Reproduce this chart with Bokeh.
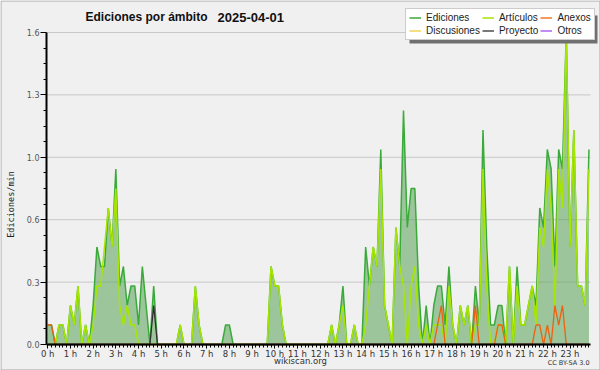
import math
from bokeh.plotting import figure
from bokeh.models import Range1d, FixedTicker, Legend, LegendItem, Label, BoxAnnotation
from bokeh.embed import file_html
from bokeh.resources import INLINE

# ---- data: edits per minute, 10-minute slots, 2025-04-01 ----
slot_minutes = 10
ediciones = [
    0.1, 0.1, 0.0, 0.1, 0.1, 0.0,   # 0 h
    0.2, 0.1, 0.3, 0.0, 0.1, 0.0,   # 1 h
    0.2, 0.5, 0.4, 0.4, 0.7, 0.5,   # 2 h
    0.9, 0.3, 0.4, 0.2, 0.3, 0.3,   # 3 h
    0.1, 0.4, 0.2, 0.0, 0.3, 0.0,   # 4 h
    0.0, 0.0, 0.0, 0.0, 0.0, 0.1,   # 5 h
    0.0, 0.0, 0.0, 0.3, 0.1, 0.0,   # 6 h
    0.0, 0.0, 0.0, 0.0, 0.0, 0.1,   # 7 h
    0.1, 0.0, 0.0, 0.0, 0.0, 0.0,   # 8 h
    0.0, 0.0, 0.0, 0.0, 0.0, 0.4,   # 9 h
    0.3, 0.3, 0.1, 0.0, 0.0, 0.0,   # 10 h
    0.0, 0.0, 0.0, 0.0, 0.0, 0.0,   # 11 h
    0.0, 0.0, 0.0, 0.1, 0.0, 0.1,   # 12 h
    0.3, 0.0, 0.0, 0.1, 0.0, 0.0,   # 13 h
    0.5, 0.3, 0.5, 0.4, 1.0, 0.2,   # 14 h
    0.1, 0.0, 0.6, 0.4, 1.2, 0.6,   # 15 h
    0.8, 0.8, 0.3, 0.0, 0.2, 0.0,   # 16 h
    0.2, 0.3, 0.3, 0.1, 0.4, 0.1,   # 17 h
    0.0, 0.2, 0.1, 0.2, 0.0, 0.3,   # 18 h
    0.1, 1.1, 0.5, 0.1, 0.1, 0.2,   # 19 h
    0.2, 0.0, 0.4, 0.0, 0.4, 0.1,   # 20 h
    0.1, 0.2, 0.3, 0.2, 0.7, 0.6,   # 21 h
    1.0, 0.9, 0.4, 1.0, 0.9, 1.6,   # 22 h
    0.5, 1.1, 0.3, 0.3, 0.2, 1.0,   # 23 h
]
articulos = [
    0.0, 0.0, 0.0, 0.1, 0.1, 0.0,
    0.2, 0.1, 0.3, 0.0, 0.1, 0.0,
    0.1, 0.3, 0.3, 0.5, 0.7, 0.5,
    0.8, 0.2, 0.1, 0.2, 0.1, 0.1,
    0.0, 0.0, 0.0, 0.0, 0.0, 0.0,
    0.0, 0.0, 0.0, 0.0, 0.0, 0.1,
    0.0, 0.0, 0.0, 0.3, 0.1, 0.0,
    0.0, 0.0, 0.0, 0.0, 0.0, 0.0,
    0.0, 0.0, 0.0, 0.0, 0.0, 0.0,
    0.0, 0.0, 0.0, 0.0, 0.0, 0.4,
    0.3, 0.3, 0.1, 0.0, 0.0, 0.0,
    0.0, 0.0, 0.0, 0.0, 0.0, 0.0,
    0.0, 0.0, 0.0, 0.1, 0.0, 0.1,
    0.2, 0.0, 0.0, 0.1, 0.0, 0.0,
    0.1, 0.3, 0.5, 0.4, 0.9, 0.2,
    0.1, 0.0, 0.6, 0.4, 0.3, 0.0,
    0.3, 0.4, 0.1, 0.0, 0.1, 0.0,
    0.1, 0.1, 0.1, 0.0, 0.3, 0.1,
    0.0, 0.2, 0.1, 0.2, 0.0, 0.1,
    0.1, 0.9, 0.3, 0.0, 0.0, 0.1,
    0.1, 0.0, 0.4, 0.0, 0.3, 0.1,
    0.1, 0.2, 0.3, 0.1, 0.6, 0.5,
    0.9, 0.7, 0.2, 0.9, 0.7, 1.6,
    0.5, 1.1, 0.3, 0.3, 0.2, 0.9,
]
anexos = [
    0.1, 0.1, 0.0, 0.0, 0.0, 0.0,
    0.0, 0.0, 0.0, 0.0, 0.0, 0.0,
    0.0, 0.0, 0.0, 0.0, 0.0, 0.0,
    0.0, 0.0, 0.0, 0.0, 0.0, 0.0,
    0.0, 0.0, 0.0, 0.0, 0.0, 0.0,
    0.0, 0.0, 0.0, 0.0, 0.0, 0.0,
    0.0, 0.0, 0.0, 0.0, 0.0, 0.0,
    0.0, 0.0, 0.0, 0.0, 0.0, 0.0,
    0.0, 0.0, 0.0, 0.0, 0.0, 0.0,
    0.0, 0.0, 0.0, 0.0, 0.0, 0.0,
    0.0, 0.0, 0.0, 0.0, 0.0, 0.0,
    0.0, 0.0, 0.0, 0.0, 0.0, 0.0,
    0.0, 0.0, 0.0, 0.0, 0.0, 0.0,
    0.0, 0.0, 0.0, 0.0, 0.0, 0.0,
    0.0, 0.0, 0.0, 0.0, 0.0, 0.0,
    0.0, 0.0, 0.0, 0.0, 0.0, 0.0,
    0.0, 0.0, 0.0, 0.0, 0.0, 0.0,
    0.0, 0.1, 0.2, 0.0, 0.0, 0.0,
    0.0, 0.0, 0.0, 0.0, 0.0, 0.2,
    0.0, 0.0, 0.0, 0.0, 0.0, 0.1,
    0.1, 0.0, 0.0, 0.0, 0.0, 0.0,
    0.0, 0.0, 0.0, 0.1, 0.1, 0.0,
    0.1, 0.0, 0.2, 0.1, 0.2, 0.0,
    0.0, 0.0, 0.0, 0.0, 0.0, 0.0,
]
proyecto = [
    0.0, 0.0, 0.0, 0.0, 0.0, 0.0,
    0.0, 0.0, 0.0, 0.0, 0.0, 0.0,
    0.0, 0.0, 0.0, 0.0, 0.0, 0.0,
    0.0, 0.0, 0.0, 0.0, 0.0, 0.0,
    0.0, 0.0, 0.0, 0.0, 0.2, 0.0,
    0.0, 0.0, 0.0, 0.0, 0.0, 0.0,
    0.0, 0.0, 0.0, 0.0, 0.0, 0.0,
    0.0, 0.0, 0.0, 0.0, 0.0, 0.0,
    0.0, 0.0, 0.0, 0.0, 0.0, 0.0,
    0.0, 0.0, 0.0, 0.0, 0.0, 0.0,
    0.0, 0.0, 0.0, 0.0, 0.0, 0.0,
    0.0, 0.0, 0.0, 0.0, 0.0, 0.0,
    0.0, 0.0, 0.0, 0.0, 0.0, 0.0,
    0.0, 0.0, 0.0, 0.0, 0.0, 0.0,
    0.0, 0.0, 0.0, 0.0, 0.0, 0.0,
    0.0, 0.0, 0.0, 0.0, 0.0, 0.0,
    0.0, 0.0, 0.0, 0.0, 0.0, 0.0,
    0.0, 0.0, 0.0, 0.0, 0.0, 0.0,
    0.0, 0.0, 0.0, 0.0, 0.0, 0.0,
    0.0, 0.0, 0.0, 0.0, 0.0, 0.0,
    0.0, 0.0, 0.0, 0.0, 0.0, 0.0,
    0.0, 0.0, 0.0, 0.0, 0.0, 0.0,
    0.0, 0.0, 0.0, 0.0, 0.0, 0.0,
    0.0, 0.0, 0.0, 0.0, 0.0, 0.0,
]
# no visible discussion / other edits that day
discusiones = [0.0] * len(ediciones)
otros = [0.0] * len(ediciones)

hours = list(range(24))
hour_labels = ["0 h", "1 h", "2 h", "3 h", "4 h", "5 h", "6 h", "7 h", "8 h", "9 h",
               "10 h", "11 h", "12 h", "13 h", "14 h", "15 h", "16 h", "17 h", "18 h",
               "19 h", "20 h", "21 h", "22 h", "23 h"]
y_ticks = [0.0, 0.32, 0.64, 0.96, 1.28, 1.6]
y_tick_labels = ["0.0", "0.3", "0.6", "1.0", "1.3", "1.6"]

title_text = "Ediciones por ámbito"
date_text = "2025-04-01"
y_label = "Ediciones/min"
site_text = "wikiscan.org"
license_text = "CC BY-SA 3.0"

x = [i * slot_minutes / 60 for i in range(len(ediciones))]

# ---- figure: the frame covers the whole canvas, axes are pinned inside ----
X0, X_AXIS_END = -0.053, 23.902
XL, XR, YB, YT = -2.0786, 24.341, -0.1333, 1.7641
PX_X, PX_Y = 22.71, 195.0       # pixels per hour / per edit-per-minute
p = figure(width=600, height=370, output_backend="svg", toolbar_location=None,
           x_range=Range1d(XL, XR), y_range=Range1d(YB, YT),
           min_border_left=0, min_border_right=0, min_border_top=0, min_border_bottom=0)
p.border_fill_color = "#f0f0f0"
p.background_fill_color = "#f0f0f0"
p.outline_line_color = None
p.xgrid.grid_line_color = None
p.ygrid.grid_line_color = None

# thin page border
p.quad(left=[XL + 0.5 / PX_X], right=[XR - 0.5 / PX_X],
       bottom=[YB + 0.5 / PX_Y], top=[YT - 0.5 / PX_Y],
       fill_alpha=0.0, line_color="#a8a8a8", line_width=1)

# horizontal grid lines at the y ticks, between the axis ends
p.multi_line(xs=[[X0, X_AXIS_END] for _ in y_ticks], ys=[[t, t] for t in y_ticks],
             line_color="#c8c8c8", line_width=1)

# area + lines
p.varea(x=x, y1=[0.0] * len(x), y2=ediciones, fill_color="#55a055", fill_alpha=0.54)
r_ed = p.line(x, ediciones, line_color="#3aaa3a", line_width=1.5)
r_art = p.line(x, articulos, line_color="#a6e600", line_width=1.5)
r_disc = p.line(x, discusiones, line_color="#f0c830", line_width=1.2)
r_anx = p.line(x, anexos, line_color="#ee6010", line_width=1.3)
r_proy = p.line(x, proyecto, line_color="#303030", line_width=1.3)
r_otr = p.line(x, otros, line_color="#9a40f0", line_width=1.2)

# x axis, drawn at value 0
xa = p.xaxis[0]
xa.fixed_location = 0
xa.bounds = (X0, X_AXIS_END)
xa.ticker = FixedTicker(ticks=hours, minor_ticks=[i / 6 for i in range(144)])
xa.major_label_overrides = {h: lab for h, lab in zip(hours, hour_labels)}
xa.major_tick_out = 4
xa.major_tick_in = 0
xa.minor_tick_out = 3
xa.minor_tick_in = 0
xa.major_label_standoff = 0
xa.axis_line_width = 2
xa.axis_line_color = "black"
xa.major_tick_line_color = "black"
xa.minor_tick_line_color = "black"
xa.major_label_text_font = "DejaVu Sans"
xa.major_label_text_font_size = "8.5px"
xa.major_label_text_color = "#333333"

# y axis, drawn at the start of the day
ya = p.yaxis[0]
ya.fixed_location = X0
ya.bounds = (0, 1.6)
minor_y = []
for a, b in zip(y_ticks[:-1], y_ticks[1:]):
    for k in (1, 2, 3):
        minor_y.append(a + (b - a) * k / 4)
ya.ticker = FixedTicker(ticks=y_ticks, minor_ticks=minor_y)
ya.major_label_overrides = {t: lab for t, lab in zip(y_ticks, y_tick_labels)}
ya.major_tick_out = 6
ya.major_tick_in = 0
ya.minor_tick_out = 3
ya.minor_tick_in = 0
ya.major_label_standoff = 1
ya.axis_line_width = 2
ya.axis_line_color = "black"
ya.major_tick_line_color = "black"
ya.minor_tick_line_color = "black"
ya.major_label_text_font = "DejaVu Sans"
ya.major_label_text_font_size = "8px"
ya.major_label_text_color = "#555555"

p.add_layout(Label(x=-1.638, y=0.718, text=y_label, angle=math.pi / 2,
                   text_font="DejaVu Sans Mono", text_font_size="8.5px",
                   text_color="#222222", text_baseline="middle", text_align="center"))

# title
p.add_layout(Label(x=1.664, y=1.679, text=title_text, text_font="Liberation Sans",
                   text_font_size="12px", text_font_style="bold", text_color="#111111",
                   text_baseline="middle", text_align="left"))
p.add_layout(Label(x=7.477, y=1.679, text=date_text, text_font="Liberation Sans",
                   text_font_size="13px", text_font_style="bold", text_color="#111111",
                   text_baseline="middle", text_align="left"))

# credits under the axis
p.add_layout(Label(x=11.13, y=-0.087, text=site_text, text_font="DejaVu Sans",
                   text_font_size="8.5px", text_color="#333333",
                   text_baseline="middle", text_align="center"))
p.add_layout(Label(x=23.858, y=-0.097, text=license_text, text_font="DejaVu Sans",
                   text_font_size="6.5px", text_color="#333333",
                   text_baseline="middle", text_align="right"))

# legend shadow (data units) + legend
p.add_layout(BoxAnnotation(left=15.931, right=24.209, top=1.6872, bottom=1.5436,
                           fill_color="#707070", fill_alpha=1.0, line_color=None))

legend = Legend(items=[
    LegendItem(label="Ediciones", renderers=[r_ed]),
    LegendItem(label="Discusiones", renderers=[r_disc]),
    LegendItem(label="Artículos", renderers=[r_art]),
    LegendItem(label="Proyecto", renderers=[r_proy]),
    LegendItem(label="Anexos", renderers=[r_anx]),
    LegendItem(label="Otros", renderers=[r_otr]),
], location=(405, 330), orientation="vertical", nrows=2)
legend.glyph_width = 12
legend.glyph_height = 11
legend.label_height = 11
legend.label_standoff = 5
legend.spacing = 2
legend.padding = 3
legend.margin = 0
legend.label_text_font = "Liberation Sans"
legend.label_text_font_size = "10px"
legend.background_fill_color = "white"
legend.background_fill_alpha = 1.0
legend.border_line_color = "#999999"
legend.border_line_width = 1
legend.label_text_color = "#222222"
p.add_layout(legend, "center")

open("out.html", "w").write(file_html(p, INLINE))
